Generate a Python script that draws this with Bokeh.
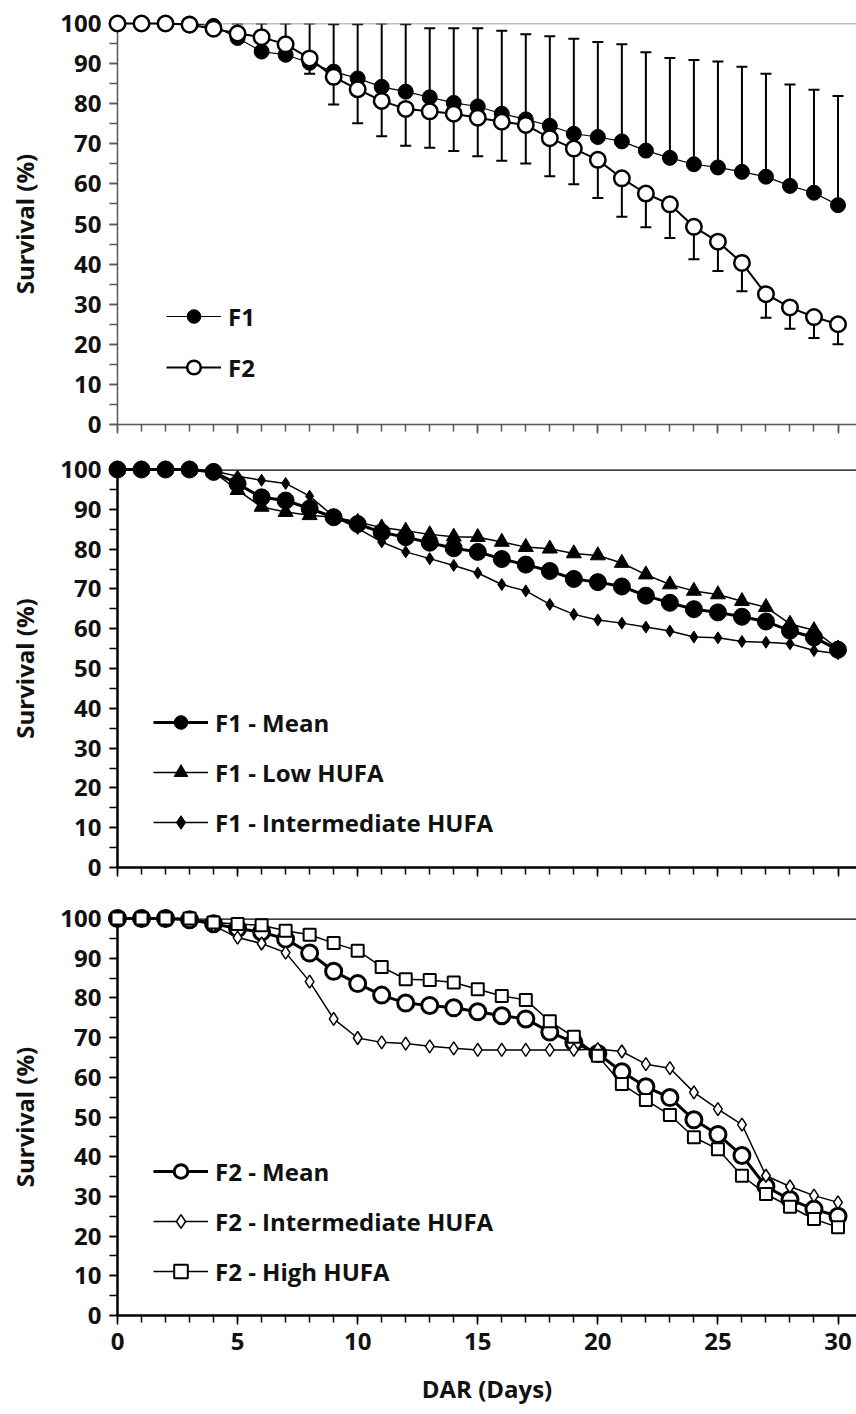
from bokeh.plotting import figure
from bokeh.models import (Range1d, Span, Whisker, TeeHead, ColumnDataSource, Legend,
                          LegendItem, SingleIntervalTicker, CustomJSTickFormatter)
from bokeh.layouts import column
from bokeh.embed import file_html
from bokeh.resources import INLINE

# ---------------- data ----------------
days = list(range(31))

f1_mean = [100, 100, 100, 100, 99.4, 96.4, 93.0, 92.2, 90.2, 88.0, 86.3, 84.2, 83.0, 81.6,
           80.2, 79.3, 77.5, 76.1, 74.5, 72.5, 71.7, 70.6, 68.3, 66.5, 64.9, 64.1, 63.0,
           61.8, 59.5, 57.8, 54.7]
f1_upper = [100, 100, 100, 100, 99.4, 100, 100, 100, 100, 99.8, 99.8, 100, 99.8, 98.8,
            98.8, 98.8, 98.2, 97.3, 96.8, 96.2, 95.4, 94.8, 92.8, 91.4, 90.9, 90.5, 89.2,
            87.5, 84.8, 83.5, 81.9]
f2_mean = [100, 100, 100, 99.7, 98.7, 97.5, 96.6, 94.8, 91.3, 86.7, 83.6, 80.7, 78.7, 78.1,
           77.5, 76.5, 75.5, 74.7, 71.4, 68.8, 66.0, 61.4, 57.6, 54.9, 49.3, 45.6, 40.3,
           32.5, 29.2, 26.8, 25.0]
f2_lower = [100, 100, 100, 99.7, 98.7, 97.5, 96.6, 94.8, 87.5, 79.8, 75.1, 71.9, 69.5, 69.0,
            68.2, 66.9, 65.8, 65.1, 61.9, 59.9, 56.5, 51.8, 49.2, 46.5, 41.2, 38.3, 33.2,
            26.6, 23.9, 21.6, 20.0]
f1_low_hufa = [100, 100, 100, 100, 99.4, 94.8, 90.6, 89.3, 88.5, 88.0, 86.8, 85.4, 84.6,
               83.7, 83.1, 83.0, 81.8, 80.5, 80.1, 78.9, 78.4, 76.5, 73.6, 71.1, 69.5, 68.6,
               66.9, 65.4, 61.2, 59.6, 55.0]
f1_int_hufa = [100, 100, 100, 100, 99.6, 98.3, 97.3, 96.5, 93.3, 88.2, 85.2, 81.8, 79.3,
               77.6, 75.9, 74.0, 71.1, 69.5, 66.1, 63.6, 62.2, 61.4, 60.4, 59.4, 57.9, 57.7,
               56.8, 56.6, 56.2, 54.5, 53.7]
f2_int_hufa = [100, 100, 100, 100, 98.2, 95.2, 93.7, 91.4, 84.1, 74.7, 69.9, 68.8, 68.5,
               67.8, 67.3, 66.9, 66.9, 66.9, 66.9, 66.9, 67.1, 66.5, 63.3, 62.3, 56.2, 52.0,
               48.1, 35.2, 32.5, 30.2, 28.5]
f2_high_hufa = [100, 100, 100, 100, 99.0, 98.6, 98.3, 96.9, 95.9, 93.8, 91.9, 87.8, 84.7,
                84.5, 83.9, 82.2, 80.5, 79.5, 74.1, 70.2, 65.4, 58.3, 54.3, 50.5, 44.9, 41.9,
                35.2, 30.6, 27.4, 24.3, 22.2]

y_label = "Survival (%)"
x_label = "DAR (Days)"

FONT = "Open Sans"
FSIZE = "24px"
TXT = "#111111"
X_END = 30.77


def base_figure(height, top, bottom, axis_color, axis_width, span_color, span_width, x_labels):
    p = figure(width=856, height=height, x_range=Range1d(0, X_END), y_range=Range1d(0, 100),
               output_backend="svg", toolbar_location=None,
               min_border_left=117, min_border_right=0,
               min_border_top=top, min_border_bottom=bottom)
    p.xgrid.visible = False
    p.ygrid.visible = False
    p.outline_line_color = None
    p.border_fill_color = "white"
    p.background_fill_color = "white"
    p.add_layout(Span(location=100, dimension="width", line_color=span_color,
                      line_width=span_width))

    yax = p.yaxis[0]
    yax.ticker = SingleIntervalTicker(interval=10, num_minor_ticks=2)
    yax.axis_line_color = axis_color
    yax.axis_line_width = axis_width
    yax.major_tick_line_color = axis_color
    yax.minor_tick_line_color = axis_color
    yax.major_tick_line_width = 1.5
    yax.minor_tick_line_width = 1.5
    yax.major_tick_in = 0
    yax.minor_tick_in = 0
    yax.major_tick_out = 8
    yax.minor_tick_out = 8
    yax.major_label_standoff = 8
    yax.major_label_text_font = FONT
    yax.major_label_text_font_style = "bold"
    yax.major_label_text_font_size = FSIZE
    yax.major_label_text_color = TXT
    yax.axis_label = y_label
    yax.axis_label_text_font = FONT
    yax.axis_label_text_font_style = "bold"
    yax.axis_label_text_font_size = FSIZE
    yax.axis_label_text_color = TXT
    yax.axis_label_standoff = 16

    xax = p.xaxis[0]
    xax.ticker = SingleIntervalTicker(interval=5, num_minor_ticks=5)
    xax.axis_line_color = axis_color
    xax.axis_line_width = axis_width
    xax.major_tick_line_color = axis_color
    xax.minor_tick_line_color = axis_color
    xax.major_tick_line_width = 1.5
    xax.minor_tick_line_width = 1.5
    xax.major_tick_in = 0
    xax.minor_tick_in = 0
    xax.major_tick_out = 9
    xax.minor_tick_out = 7
    if x_labels:
        xax.major_label_standoff = 8
        xax.major_label_text_font = FONT
        xax.major_label_text_font_style = "bold"
        xax.major_label_text_font_size = FSIZE
        xax.major_label_text_color = TXT
        xax.axis_label = x_label
        xax.axis_label_text_font = FONT
        xax.axis_label_text_font_style = "bold"
        xax.axis_label_text_font_size = FSIZE
        xax.axis_label_text_color = TXT
        xax.axis_label_standoff = 19
    else:
        xax.formatter = CustomJSTickFormatter(code="return ''")
        xax.major_label_standoff = 0
        xax.major_label_text_font_size = "1px"
    return p


def add_legend(p, items, loc, spacing):
    leg = Legend(items=items, location=loc, orientation="vertical",
                 glyph_width=55, glyph_height=34, label_height=34, label_standoff=7,
                 spacing=spacing, padding=0, margin=0,
                 border_line_color=None, background_fill_alpha=0,
                 label_text_font=FONT, label_text_font_style="bold",
                 label_text_font_size=FSIZE, label_text_color=TXT)
    p.add_layout(leg)


# ---------------- panel 1 ----------------
p1 = base_figure(440, 23, 16, "#595959", 1.5, "#808080", 1.5, False)

src_f1 = ColumnDataSource(dict(x=days, y=f1_mean, up=f1_upper))
src_f2 = ColumnDataSource(dict(x=days, y=f2_mean, lo=f2_lower))

p1.add_layout(Whisker(source=src_f1, base="x", lower="y", upper="up", dimension="height",
                      line_color="black", line_width=2, lower_head=None,
                      upper_head=TeeHead(size=11, line_color="black", line_width=2)))
p1.add_layout(Whisker(source=src_f2, base="x", lower="lo", upper="y", dimension="height",
                      line_color="black", line_width=2, upper_head=None,
                      lower_head=TeeHead(size=11, line_color="black", line_width=2)))

l_f1 = p1.line("x", "y", source=src_f1, line_color="black", line_width=1.2, level="overlay")
s_f1 = p1.scatter("x", "y", source=src_f1, marker="circle", size=15, fill_color="black",
                  line_color="black", line_width=1, level="overlay")
l_f2 = p1.line("x", "y", source=src_f2, line_color="black", line_width=2, level="overlay")
s_f2 = p1.scatter("x", "y", source=src_f2, marker="circle", size=15.5, fill_color="white",
                  line_color="black", line_width=2.5, level="overlay")
add_legend(p1, [LegendItem(label="F1", renderers=[l_f1, s_f1]),
                LegendItem(label="F2", renderers=[l_f2, s_f2])], (49, 40), 17)

# ---------------- panel 2 ----------------
p2 = base_figure(450, 29, 23, "black", 2.5, "black", 2.5, False)
src_m1 = ColumnDataSource(dict(x=days, y=f1_mean))
src_low = ColumnDataSource(dict(x=days, y=f1_low_hufa))
src_i1 = ColumnDataSource(dict(x=days, y=f1_int_hufa))

l_m1 = p2.line("x", "y", source=src_m1, line_color="black", line_width=3, level="overlay")
s_m1 = p2.scatter("x", "y", source=src_m1, marker="circle", size=17, fill_color="black",
                  line_color="black", level="overlay")
l_low = p2.line("x", "y", source=src_low, line_color="black", line_width=1.5, level="overlay")
s_low = p2.scatter("x", "y", source=src_low, marker="triangle", size=15, fill_color="black",
                   line_color="black", level="overlay")
l_i1 = p2.line("x", "y", source=src_i1, line_color="black", line_width=1.5, level="overlay")
s_i1 = p2.scatter("x", "y", source=src_i1, marker="diamond", size=12, fill_color="black",
                  line_color="black", level="overlay")
add_legend(p2, [LegendItem(label="F1 - Mean", renderers=[l_m1, s_m1]),
                LegendItem(label="F1 - Low HUFA", renderers=[l_low, s_low]),
                LegendItem(label="F1 - Intermediate HUFA", renderers=[l_i1, s_i1])],
           (36, 28), 16)

# ---------------- panel 3 ----------------
p3 = base_figure(524, 28, 99, "black", 2.5, "black", 2.5, True)
src_m2 = ColumnDataSource(dict(x=days, y=f2_mean))
src_i2 = ColumnDataSource(dict(x=days, y=f2_int_hufa))
src_hi = ColumnDataSource(dict(x=days, y=f2_high_hufa))

l_m2 = p3.line("x", "y", source=src_m2, line_color="black", line_width=3, level="overlay")
s_m2 = p3.scatter("x", "y", source=src_m2, marker="circle", size=16, fill_color="white",
                  line_color="black", line_width=3, level="overlay")
l_i2 = p3.line("x", "y", source=src_i2, line_color="black", line_width=1.5, level="overlay")
s_i2 = p3.scatter("x", "y", source=src_i2, marker="diamond", size=13, fill_color="white",
                  line_color="black", line_width=1.5, level="overlay")
l_hi = p3.line("x", "y", source=src_hi, line_color="black", line_width=1.5, level="overlay")
s_hi = p3.scatter("x", "y", source=src_hi, marker="square", size=12, fill_color="white",
                  line_color="black", line_width=2, level="overlay")
add_legend(p3, [LegendItem(label="F2 - Mean", renderers=[l_m2, s_m2]),
                LegendItem(label="F2 - Intermediate HUFA", renderers=[l_i2, s_i2]),
                LegendItem(label="F2 - High HUFA", renderers=[l_hi, s_hi])],
           (36, 27), 16)

layout = column(p1, p2, p3, spacing=0)
open("out.html", "w").write(file_html(layout, INLINE))
